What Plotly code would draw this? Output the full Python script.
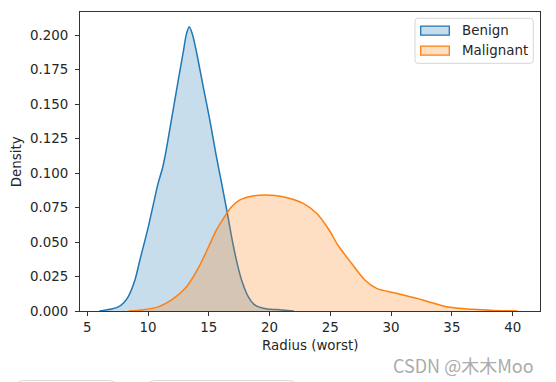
import plotly.graph_objects as go

# ---- data ----
benign_x = [6.0, 6.5, 7.0, 7.55, 8.0, 8.37, 8.92, 9.33, 10.02, 10.51, 10.84, 11.2, 11.5,
            12.0, 12.5, 12.9, 13.15, 13.39, 13.65, 14.0, 14.54, 15.09, 15.6, 16.1,
            16.5, 17.0, 17.4, 17.75, 18.24, 18.7, 19.1, 19.8, 20.6, 21.5, 22.0]
benign_y = [0.0, 0.0007, 0.0015, 0.003, 0.006, 0.0104, 0.0225, 0.037, 0.061, 0.0804, 0.093,
            0.104, 0.117, 0.1425, 0.168, 0.188, 0.2005, 0.206, 0.2005, 0.187, 0.1625, 0.138,
            0.113, 0.0905, 0.072, 0.048, 0.032, 0.021, 0.0104, 0.005, 0.003, 0.0015, 0.001,
            0.0003, 0.0]

malignant_x = [8.4, 9.5, 10.84, 11.94, 13.17, 14.13, 14.95, 15.64, 16.2, 16.87, 17.56,
               18.65, 19.75, 21.1, 22.76, 23.87, 24.9, 25.6, 26.74, 27.84, 28.8, 30.44,
               32.6, 34.56, 36.7, 38.5, 40.4]
malignant_y = [0.0, 0.0008, 0.003, 0.008, 0.0176, 0.031, 0.046, 0.059, 0.067, 0.0755,
               0.0805, 0.0834, 0.0841, 0.0828, 0.078, 0.0708, 0.0587, 0.048, 0.0346,
               0.0225, 0.0164, 0.0128, 0.008, 0.0031, 0.0012, 0.0004, 0.0]

series_names = ["Benign", "Malignant"]
x_ticks = [5, 10, 15, 20, 25, 30, 35, 40]
y_ticks = [0.0, 0.025, 0.05, 0.075, 0.1, 0.125, 0.15, 0.175, 0.2]

BLUE = "#1f77b4"
ORANGE = "#ff7f0e"
BLUE_FILL = "rgba(31,119,180,0.25)"
ORANGE_FILL = "rgba(255,127,14,0.25)"
FONT = "DejaVu Sans"
TXT = "#262626"

W, H = 556, 382
L, R, T, B = 80, 540, 12, 311


def px(xp):
    return (xp - L) / (R - L)


def py(yp):
    return (B - yp) / (B - T)


fig = go.Figure()
fig.add_trace(go.Scatter(x=benign_x, y=benign_y, name=series_names[0], mode="lines",
                         line=dict(color=BLUE, width=1.5, shape="spline", smoothing=0.8),
                         fill="tozeroy", fillcolor=BLUE_FILL))
fig.add_trace(go.Scatter(x=malignant_x, y=malignant_y, name=series_names[1], mode="lines",
                         line=dict(color=ORANGE, width=1.5, shape="spline", smoothing=0.8),
                         fill="tozeroy", fillcolor=ORANGE_FILL))

axis_common = dict(showline=True, linecolor="#333333", linewidth=1, mirror=True,
                   ticks="outside", ticklen=4, tickwidth=1, tickcolor="#333333",
                   showgrid=False, zeroline=False,
                   tickfont=dict(family=FONT, size=13.4, color=TXT))

fig.update_xaxes(range=[4.4, 42.25], tickvals=x_ticks, **axis_common)
fig.update_yaxes(range=[0, 0.2167], tickvals=y_ticks, tickformat=".3f",
                 ticklabelstandoff=4, **axis_common)

shapes = []
annotations = []

# axis titles
annotations.append(dict(text="Radius (worst)", xref="paper", yref="paper",
                        x=0.5, y=py(345.7), xanchor="center", yanchor="middle",
                        showarrow=False, font=dict(family=FONT, size=13.4, color=TXT)))
annotations.append(dict(text="Density", xref="paper", yref="paper",
                        x=px(16.7), y=0.5, xanchor="center", yanchor="middle",
                        textangle=-90, showarrow=False,
                        font=dict(family=FONT, size=13.4, color=TXT)))

# legend box (rounded)
lx0, ly0, lx1, ly1, r = 415, 18.3, 533.3, 63.3, 3
path = (f"M {px(lx0 + r)},{py(ly0)} L {px(lx1 - r)},{py(ly0)} "
        f"Q {px(lx1)},{py(ly0)} {px(lx1)},{py(ly0 + r)} "
        f"L {px(lx1)},{py(ly1 - r)} Q {px(lx1)},{py(ly1)} {px(lx1 - r)},{py(ly1)} "
        f"L {px(lx0 + r)},{py(ly1)} Q {px(lx0)},{py(ly1)} {px(lx0)},{py(ly1 - r)} "
        f"L {px(lx0)},{py(ly0 + r)} Q {px(lx0)},{py(ly0)} {px(lx0 + r)},{py(ly0)} Z")
shapes.append(dict(type="path", xref="paper", yref="paper", path=path,
                   fillcolor="rgba(255,255,255,0.8)", line=dict(color="#d6d6d6", width=1)))

for name, col, fcol, yc in [(series_names[0], BLUE, BLUE_FILL, 30.7),
                            (series_names[1], ORANGE, ORANGE_FILL, 50.7)]:
    shapes.append(dict(type="rect", xref="paper", yref="paper",
                       x0=px(420.7), x1=px(449.3), y0=py(yc - 4.5), y1=py(yc + 4.5),
                       fillcolor=fcol, line=dict(color=col, width=1.3)))
    annotations.append(dict(text=name, xref="paper", yref="paper",
                            x=px(459.5), y=py(yc), xanchor="left", yanchor="middle",
                            showarrow=False, font=dict(family=FONT, size=13.4, color=TXT)))

# watermark
annotations.append(dict(text="CSDN @木木Moo", xref="paper", yref="paper",
                        x=px(463), y=py(364.5), xanchor="center", yanchor="middle",
                        showarrow=False,
                        font=dict(family="Noto Sans CJK SC", size=18, color="#ababab")))

# faint UI outlines at the very bottom of the screenshot
for a, b in [(17, 116), (148, 296)]:
    p = (f"M {px(a)},{py(383)} Q {px(a + 2)},{py(380.5)} {px(a + 8)},{py(380.5)} "
         f"L {px(b - 8)},{py(380.5)} Q {px(b - 2)},{py(380.5)} {px(b)},{py(383)}")
    shapes.append(dict(type="path", xref="paper", yref="paper", path=p,
                       line=dict(color="#dcdcdc", width=1)))

fig.update_layout(width=W, height=H, margin=dict(l=L, r=W - R, t=T, b=H - B),
                  plot_bgcolor="white", paper_bgcolor="white", showlegend=False,
                  shapes=shapes, annotations=annotations)

fig.write_html("out.html", config={"displayModeBar": False},
               post_script="document.body.style.margin='0';document.body.style.padding='0';")
